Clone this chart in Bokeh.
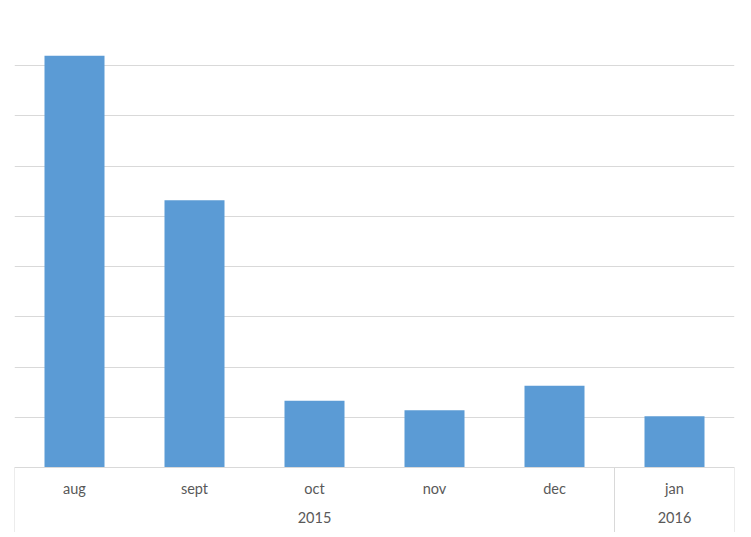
from bokeh.plotting import figure
from bokeh.models import FactorRange, FixedTicker, ColumnDataSource
from bokeh.embed import file_html
from bokeh.resources import INLINE

years = ["2015", "2015", "2015", "2015", "2015", "2016"]
months = ["aug", "sept", "oct", "nov", "dec", "jan"]
values = [82.0, 53.2, 13.3, 11.4, 16.3, 10.2]
grid_ticks = [0, 10, 20, 30, 40, 50, 60, 70, 80, 90]
y_max = 90
y_label_band = -12.94  # depth of the category label band below the baseline

factors = list(zip(years, months))
xr = FactorRange(*factors, group_padding=0, factor_padding=0, range_padding=0)

p = figure(x_range=xr, y_range=(y_label_band, y_max), output_backend="svg",
           toolbar_location=None, frame_width=720, frame_height=517,
           min_border_left=14, min_border_right=17, min_border_top=15, min_border_bottom=0)
p.vbar(x=factors, top=values, width=0.5, color="#5B9BD5", line_color=None)

# category band separators: outer edges and between year groups
sep_x = [(years[0], months[0], -0.5)]
for i in range(1, len(years)):
    if years[i] != years[i - 1]:
        sep_x.append((years[i - 1], months[i - 1], 0.5))
sep_x.append((years[-1], months[-1], 0.5))
sep = ColumnDataSource(dict(x=sep_x, y0=[0] * len(sep_x), y1=[y_label_band] * len(sep_x)))
p.segment(x0="x", x1="x", y0="y0", y1="y1", source=sep, line_color="#D9D9D9", line_width=1)

p.outline_line_color = None
p.yaxis.visible = False
p.ygrid.ticker = FixedTicker(ticks=grid_ticks)
p.ygrid.grid_line_color = "#D9D9D9"
p.xgrid.grid_line_color = None

ax = p.xaxis[0]
ax.fixed_location = 0
ax.axis_line_color = "#D9D9D9"
ax.major_tick_line_color = None
ax.major_tick_out = 0
ax.major_tick_in = 0
ax.major_label_standoff = 12
ax.major_label_text_font = "Lato"
ax.major_label_text_font_size = "14.5px"
ax.major_label_text_color = "#595959"
ax.major_label_text_line_height = 1.8
ax.group_text_font = "Lato"
ax.group_text_font_size = "14.5px"
ax.group_text_color = "#595959"
ax.group_text_font_style = "normal"
ax.separator_line_color = None

open("out.html", "w").write(file_html(p, INLINE))
